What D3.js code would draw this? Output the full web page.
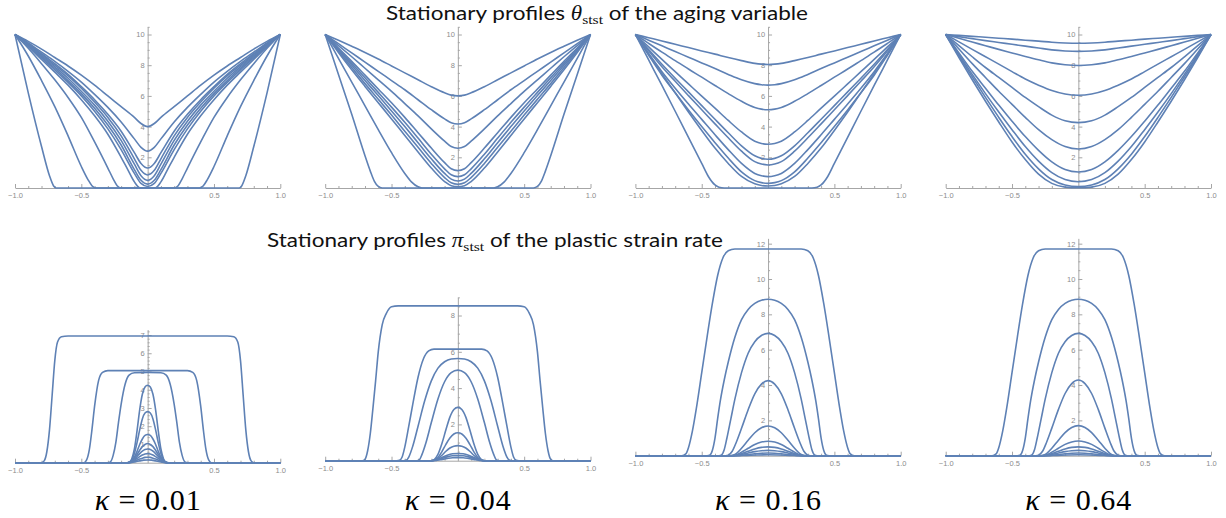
<!DOCTYPE html>
<html><head><meta charset="utf-8">
<script src="https://cdn.jsdelivr.net/npm/d3@7"></script>
<style>body{margin:0;background:#fff} svg{display:block}</style>
</head><body><svg id="c" width="1226" height="518"></svg>
<script>
// ---------------- data ----------------
const kappaLabels = ["0.01", "0.04", "0.16", "0.64"];
const xTicks = [-1, -0.5, 0.5, 1];
const thetaTicks = [2, 4, 6, 8, 10];
const piTicks = [[1, 2, 3, 4, 5, 6, 7], [2, 4, 6, 8], [2, 4, 6, 8, 10, 12], [2, 4, 6, 8, 10, 12]];
const thetaTop = 10.5;
const piTop = [7.3, 9.0, 12.3, 12.3];

// right halves [x, value]; profiles are symmetric in x
const thetaK001 = [
 [[0,4.0],[0.05,4.2],[0.1,4.6],[0.2,5.3],[0.3,6.0],[0.4,6.7],[0.5,7.35],[0.6,7.95],[0.7,8.5],[0.8,9.05],[0.9,9.55],[1,10]],
 [[0,2.4],[0.05,2.65],[0.1,3.2],[0.2,4.3],[0.3,5.25],[0.4,6.1],[0.5,6.9],[0.6,7.6],[0.7,8.25],[0.8,8.85],[0.9,9.45],[1,10]],
 [[0,1.3],[0.05,1.6],[0.1,2.3],[0.2,3.7],[0.3,4.8],[0.4,5.75],[0.5,6.6],[0.6,7.4],[0.7,8.1],[0.8,8.75],[0.9,9.4],[1,10]],
 [[0,0.85],[0.05,1.15],[0.1,1.9],[0.2,3.4],[0.3,4.6],[0.4,5.6],[0.5,6.5],[0.6,7.3],[0.7,8.0],[0.8,8.7],[0.9,9.35],[1,10]],
 [[0,0.5],[0.05,0.8],[0.1,1.55],[0.2,3.1],[0.3,4.35],[0.4,5.4],[0.5,6.3],[0.6,7.15],[0.7,7.9],[0.8,8.62],[0.9,9.3],[1,10]],
 [[0,0.25],[0.05,0.5],[0.1,1.2],[0.2,2.8],[0.3,4.1],[0.4,5.2],[0.5,6.15],[0.6,7.0],[0.7,7.8],[0.8,8.55],[0.9,9.27],[1,10]],
 [[0,0.1],[0.05,0.3],[0.1,0.95],[0.2,2.5],[0.3,3.85],[0.4,5.0],[0.5,6.0],[0.6,6.88],[0.7,7.7],[0.8,8.48],[0.9,9.25],[1,10]],
 [[0,0],[0.06,0.02],[0.1,0.4],[0.15,1.2],[0.2,2.0],[0.3,3.5],[0.4,4.7],[0.5,5.75],[0.6,6.7],[0.7,7.55],[0.8,8.38],[0.9,9.2],[1,10]],
 [[0,0],[0.2,0],[0.23,0.15],[0.26,0.6],[0.3,1.3],[0.4,3.0],[0.5,4.6],[0.6,5.9],[0.7,7.05],[0.8,8.1],[0.9,9.1],[1,10]],
 [[0,0],[0.39,0],[0.42,0.15],[0.45,0.55],[0.5,1.4],[0.6,3.4],[0.7,5.3],[0.8,7.0],[0.9,8.6],[1,10]],
 [[0,0],[0.69,0],[0.71,0.15],[0.74,0.8],[0.8,2.7],[0.9,6.2],[1,10]]
];
const thetaK004 = [
 [[0,6.0],[0.05,6.05],[0.1,6.2],[0.2,6.6],[0.3,7.05],[0.4,7.5],[0.5,7.95],[0.6,8.4],[0.7,8.83],[0.8,9.23],[0.9,9.62],[1,10]],
 [[0,4.17],[0.05,4.25],[0.1,4.5],[0.2,5.1],[0.3,5.75],[0.4,6.4],[0.5,7.0],[0.6,7.6],[0.7,8.2],[0.8,8.8],[0.9,9.4],[1,10]],
 [[0,2.59],[0.05,2.7],[0.1,3.05],[0.2,3.85],[0.3,4.7],[0.4,5.5],[0.5,6.3],[0.6,7.05],[0.7,7.8],[0.8,8.55],[0.9,9.28],[1,10]],
 [[0,1.13],[0.05,1.25],[0.1,1.65],[0.2,2.6],[0.3,3.6],[0.4,4.6],[0.5,5.55],[0.6,6.45],[0.7,7.35],[0.8,8.25],[0.9,9.12],[1,10]],
 [[0,0.74],[0.05,0.86],[0.1,1.25],[0.2,2.2],[0.3,3.25],[0.4,4.28],[0.5,5.27],[0.6,6.23],[0.7,7.18],[0.8,8.12],[0.9,9.06],[1,10]],
 [[0,0.46],[0.05,0.58],[0.1,0.95],[0.2,1.9],[0.3,2.95],[0.4,4.0],[0.5,5.02],[0.6,6.02],[0.7,7.0],[0.8,8.0],[0.9,9.0],[1,10]],
 [[0,0.24],[0.05,0.34],[0.1,0.68],[0.2,1.6],[0.3,2.65],[0.4,3.7],[0.5,4.75],[0.6,5.78],[0.7,6.8],[0.8,7.85],[0.9,8.92],[1,10]],
 [[0,0.09],[0.05,0.15],[0.1,0.42],[0.2,1.3],[0.3,2.35],[0.4,3.42],[0.5,4.5],[0.6,5.56],[0.7,6.62],[0.8,7.7],[0.9,8.83],[1,10]],
 [[0,0],[0.27,0],[0.3,0.08],[0.35,0.4],[0.4,0.95],[0.5,2.3],[0.6,3.8],[0.7,5.35],[0.8,6.9],[0.9,8.45],[1,10]],
 [[0,0],[0.57,0],[0.6,0.1],[0.63,0.45],[0.66,1.1],[0.7,2.1],[0.8,4.8],[0.9,7.4],[1,10]]
];
const thetaK016 = [
 [[0,8.05],[0.05,8.07],[0.1,8.12],[0.2,8.3],[0.3,8.5],[0.4,8.72],[0.5,8.93],[0.6,9.15],[0.7,9.36],[0.8,9.58],[0.9,9.79],[1,10]],
 [[0,6.7],[0.05,6.73],[0.1,6.8],[0.2,7.05],[0.3,7.4],[0.4,7.78],[0.5,8.15],[0.6,8.52],[0.7,8.89],[0.8,9.26],[0.9,9.63],[1,10]],
 [[0,5.1],[0.05,5.14],[0.1,5.25],[0.2,5.65],[0.3,6.15],[0.4,6.68],[0.5,7.22],[0.6,7.75],[0.7,8.3],[0.8,8.85],[0.9,9.42],[1,10]],
 [[0,2.85],[0.05,2.9],[0.1,3.05],[0.2,3.65],[0.3,4.4],[0.4,5.2],[0.5,5.98],[0.6,6.78],[0.7,7.58],[0.8,8.38],[0.9,9.19],[1,10]],
 [[0,1.87],[0.05,1.93],[0.1,2.1],[0.2,2.75],[0.3,3.6],[0.4,4.48],[0.5,5.37],[0.6,6.26],[0.7,7.15],[0.8,8.06],[0.9,9.02],[1,10]],
 [[0,1.5],[0.05,1.56],[0.1,1.72],[0.2,2.4],[0.3,3.27],[0.4,4.18],[0.5,5.1],[0.6,6.02],[0.7,6.95],[0.8,7.9],[0.9,8.93],[1,10]],
 [[0,0.74],[0.05,0.8],[0.1,0.95],[0.2,1.6],[0.3,2.5],[0.4,3.47],[0.5,4.47],[0.6,5.47],[0.7,6.5],[0.8,7.58],[0.9,8.76],[1,10]],
 [[0,0.3],[0.05,0.35],[0.1,0.48],[0.2,1.05],[0.3,1.95],[0.4,2.95],[0.5,4.0],[0.6,5.08],[0.7,6.2],[0.8,7.35],[0.9,8.65],[1,10]],
 [[0,0.13],[0.05,0.16],[0.1,0.27],[0.2,0.75],[0.3,1.6],[0.4,2.6],[0.5,3.75],[0.6,4.95],[0.7,6.2],[0.8,7.45],[0.9,8.72],[1,10]],
 [[0,0],[0.33,0],[0.37,0.05],[0.4,0.2],[0.45,0.75],[0.5,1.6],[0.6,3.3],[0.7,5.0],[0.8,6.68],[0.9,8.34],[1,10]]
];
const thetaK064 = [
 [[0,9.43],[0.1,9.45],[0.2,9.5],[0.3,9.57],[0.4,9.63],[0.5,9.7],[0.6,9.76],[0.7,9.82],[0.8,9.88],[0.9,9.94],[1,10]],
 [[0,8.9],[0.1,8.93],[0.2,9.0],[0.3,9.12],[0.4,9.24],[0.5,9.36],[0.6,9.48],[0.7,9.6],[0.8,9.73],[0.9,9.86],[1,10]],
 [[0,7.98],[0.1,8.03],[0.2,8.15],[0.3,8.35],[0.4,8.57],[0.5,8.8],[0.6,9.03],[0.7,9.27],[0.8,9.51],[0.9,9.75],[1,10]],
 [[0,6.04],[0.1,6.12],[0.2,6.35],[0.3,6.7],[0.4,7.1],[0.5,7.58],[0.6,8.07],[0.7,8.55],[0.8,9.03],[0.9,9.52],[1,10]],
 [[0,4.26],[0.1,4.38],[0.2,4.75],[0.3,5.3],[0.4,5.9],[0.5,6.55],[0.6,7.2],[0.7,7.85],[0.8,8.55],[0.9,9.27],[1,10]],
 [[0,2.54],[0.1,2.7],[0.2,3.15],[0.3,3.8],[0.4,4.6],[0.5,5.45],[0.6,6.3],[0.7,7.2],[0.8,8.1],[0.9,9.05],[1,10]],
 [[0,1.04],[0.1,1.2],[0.2,1.7],[0.3,2.45],[0.4,3.35],[0.5,4.35],[0.6,5.4],[0.7,6.5],[0.8,7.6],[0.9,8.8],[1,10]],
 [[0,0.41],[0.1,0.55],[0.2,1.0],[0.3,1.75],[0.4,2.7],[0.5,3.8],[0.6,4.95],[0.7,6.15],[0.8,7.4],[0.9,8.7],[1,10]],
 [[0,0.1],[0.1,0.2],[0.2,0.55],[0.3,1.25],[0.4,2.2],[0.5,3.35],[0.6,4.6],[0.7,5.9],[0.8,7.25],[0.9,8.6],[1,10]],
 [[0,0.02],[0.1,0.06],[0.2,0.3],[0.3,0.9],[0.4,1.85],[0.5,3.0],[0.6,4.3],[0.7,5.65],[0.8,7.05],[0.9,8.5],[1,10]]
];

const piK001 = [
 [[0,6.95],[0.6,6.95],[0.65,6.9],[0.68,6.6],[0.7,5.6],[0.72,3.7],[0.74,1.8],[0.76,0.6],[0.78,0.1],[0.8,0],[1,0]],
 [[0,5.05],[0.3,5.05],[0.34,4.95],[0.37,4.5],[0.4,3.1],[0.42,1.8],[0.44,0.7],[0.46,0.15],[0.48,0],[1,0]],
 [[0,4.95],[0.1,4.93],[0.14,4.8],[0.17,4.3],[0.2,3.2],[0.22,2.2],[0.24,1.1],[0.26,0.4],[0.28,0.05],[0.3,0],[1,0]],
 [[0,4.25],[0.02,4.15],[0.04,3.75],[0.06,2.9],[0.08,1.75],[0.1,0.75],[0.12,0.2],[0.14,0.02],[0.16,0],[1,0]],
 [[0,2.8],[0.02,2.72],[0.04,2.4],[0.06,1.8],[0.08,1.1],[0.1,0.5],[0.12,0.15],[0.15,0],[1,0]],
 [[0,1.55],[0.02,1.5],[0.04,1.3],[0.06,1.0],[0.08,0.62],[0.1,0.3],[0.12,0.1],[0.15,0],[1,0]],
 [[0,1.05],[0.02,1.0],[0.04,0.88],[0.06,0.68],[0.08,0.45],[0.1,0.24],[0.12,0.09],[0.15,0],[1,0]],
 [[0,0.75],[0.02,0.72],[0.04,0.63],[0.06,0.5],[0.08,0.34],[0.1,0.19],[0.12,0.07],[0.15,0],[1,0]],
 [[0,0.5],[0.02,0.48],[0.04,0.42],[0.06,0.33],[0.08,0.23],[0.1,0.13],[0.12,0.05],[0.15,0],[1,0]],
 [[0,0.3],[0.02,0.29],[0.04,0.25],[0.06,0.2],[0.08,0.14],[0.1,0.08],[0.12,0.03],[0.15,0],[1,0]],
 [[0,0.15],[0.03,0.14],[0.06,0.1],[0.09,0.06],[0.12,0.02],[0.15,0],[1,0]]
];
const piK004 = [
 [[0,8.53],[0.45,8.53],[0.5,8.48],[0.54,8.1],[0.57,7.5],[0.6,6.0],[0.62,4.4],[0.64,2.9],[0.66,1.5],[0.68,0.55],[0.7,0.08],[0.72,0],[1,0]],
 [[0,6.15],[0.18,6.15],[0.22,6.05],[0.26,5.6],[0.3,4.6],[0.34,3.1],[0.37,1.9],[0.4,0.75],[0.42,0.2],[0.44,0.02],[0.46,0],[1,0]],
 [[0,5.63],[0.05,5.6],[0.1,5.45],[0.15,5.1],[0.2,4.4],[0.25,3.3],[0.3,1.9],[0.34,0.8],[0.37,0.2],[0.39,0.02],[0.41,0],[1,0]],
 [[0,4.99],[0.05,4.85],[0.1,4.35],[0.15,3.4],[0.2,2.1],[0.24,1.0],[0.27,0.35],[0.29,0.05],[0.31,0],[1,0]],
 [[0,2.94],[0.03,2.82],[0.06,2.4],[0.09,1.7],[0.12,0.95],[0.15,0.35],[0.18,0.05],[0.2,0],[1,0]],
 [[0,1.54],[0.03,1.47],[0.06,1.25],[0.09,0.9],[0.12,0.5],[0.15,0.18],[0.18,0.03],[0.2,0],[1,0]],
 [[0,0.83],[0.03,0.8],[0.06,0.7],[0.09,0.52],[0.12,0.3],[0.15,0.12],[0.18,0.02],[0.2,0],[1,0]],
 [[0,0.4],[0.04,0.38],[0.08,0.3],[0.12,0.17],[0.16,0.06],[0.2,0],[1,0]],
 [[0,0.28],[0.04,0.27],[0.08,0.21],[0.12,0.12],[0.16,0.04],[0.2,0],[1,0]],
 [[0,0.17],[0.04,0.16],[0.08,0.12],[0.12,0.07],[0.16,0.02],[0.2,0],[1,0]]
];
const piK016 = [
 [[0,11.7],[0.25,11.7],[0.3,11.6],[0.34,11.2],[0.38,10.2],[0.42,8.6],[0.46,6.7],[0.5,4.7],[0.54,2.7],[0.57,1.4],[0.6,0.45],[0.62,0.1],[0.65,0],[1,0]],
 [[0,8.85],[0.05,8.8],[0.1,8.62],[0.15,8.28],[0.2,7.7],[0.25,6.7],[0.3,5.3],[0.33,4.3],[0.36,3.1],[0.38,2.1],[0.4,1.0],[0.42,0.3],[0.44,0.03],[0.46,0],[1,0]],
 [[0,6.92],[0.05,6.8],[0.1,6.45],[0.15,5.8],[0.2,4.7],[0.25,3.2],[0.28,2.1],[0.31,1.0],[0.33,0.35],[0.35,0.05],[0.37,0],[1,0]],
 [[0,4.25],[0.05,4.05],[0.1,3.5],[0.15,2.6],[0.2,1.55],[0.24,0.75],[0.27,0.25],[0.3,0.03],[0.32,0],[1,0]],
 [[0,1.68],[0.05,1.58],[0.1,1.3],[0.15,0.87],[0.2,0.42],[0.24,0.12],[0.27,0.02],[0.29,0],[1,0]],
 [[0,0.82],[0.05,0.77],[0.1,0.63],[0.15,0.42],[0.2,0.2],[0.24,0.05],[0.27,0],[1,0]],
 [[0,0.5],[0.05,0.47],[0.1,0.38],[0.15,0.25],[0.2,0.12],[0.24,0.03],[0.27,0],[1,0]],
 [[0,0.3],[0.05,0.28],[0.1,0.23],[0.15,0.15],[0.2,0.07],[0.24,0.02],[0.27,0],[1,0]],
 [[0,0.15],[0.05,0.14],[0.1,0.11],[0.15,0.07],[0.2,0.03],[0.25,0],[1,0]],
 [[0,0.05],[0.08,0.04],[0.16,0.02],[0.24,0],[1,0]]
];
const piK064 = [
 [[0,11.7],[0.25,11.7],[0.3,11.6],[0.34,11.2],[0.38,10.2],[0.42,8.6],[0.46,6.7],[0.5,4.7],[0.54,2.7],[0.57,1.4],[0.6,0.45],[0.62,0.1],[0.65,0],[1,0]],
 [[0,8.85],[0.05,8.8],[0.1,8.62],[0.15,8.28],[0.2,7.7],[0.25,6.7],[0.3,5.3],[0.33,4.3],[0.36,3.1],[0.38,2.1],[0.4,1.0],[0.42,0.3],[0.44,0.03],[0.46,0],[1,0]],
 [[0,6.92],[0.05,6.8],[0.1,6.45],[0.15,5.8],[0.2,4.7],[0.25,3.2],[0.28,2.1],[0.31,1.0],[0.33,0.35],[0.35,0.05],[0.37,0],[1,0]],
 [[0,4.28],[0.05,4.08],[0.1,3.52],[0.15,2.62],[0.2,1.56],[0.24,0.75],[0.27,0.25],[0.3,0.03],[0.32,0],[1,0]],
 [[0,1.7],[0.05,1.6],[0.1,1.31],[0.15,0.88],[0.2,0.42],[0.24,0.12],[0.27,0.02],[0.29,0],[1,0]],
 [[0,0.83],[0.05,0.78],[0.1,0.64],[0.15,0.42],[0.2,0.2],[0.24,0.05],[0.27,0],[1,0]],
 [[0,0.5],[0.05,0.47],[0.1,0.38],[0.15,0.25],[0.2,0.12],[0.24,0.03],[0.27,0],[1,0]],
 [[0,0.3],[0.05,0.28],[0.1,0.23],[0.15,0.15],[0.2,0.07],[0.24,0.02],[0.27,0],[1,0]],
 [[0,0.15],[0.05,0.14],[0.1,0.11],[0.15,0.07],[0.2,0.03],[0.25,0],[1,0]],
 [[0,0.05],[0.08,0.04],[0.16,0.02],[0.24,0],[1,0]]
];
const thetaSets = [thetaK001, thetaK004, thetaK016, thetaK064];
const piSets = [piK001, piK004, piK016, piK064];

// ---------------- layout ----------------
const svg = d3.select("#c");
const lineColor = "#5e81b5";
const axisColor = "#a6a6a6";
const labelColor = "#8c8c8c";
const colLeft = [15, 325.2, 635.4, 945.7];
const panelW = 265.3;
const topBase = 188, topUnit = 15.35;
const botBase = [462.7, 460.7, 455.7, 455.7];
const botUnit = [18.24, 18.15, 17.67, 17.67];

function mirror(c) {
  const left = c.filter(p => p[0] > 0).map(p => [-p[0], p[1]]).reverse();
  return left.concat(c);
}

function drawPanel(left, base, unit, top, majors, minorStep, curves) {
  const x = d3.scaleLinear().domain([-1, 1]).range([left, left + panelW]);
  const y = d3.scaleLinear().domain([0, top]).range([base, base - top * unit]);
  const g = svg.append("g");
  const x0 = x(0);
  const xMinor = d3.range(-10, 11).map(i => i / 10).filter(v => Math.abs(v) > 1e-9 && !xTicks.includes(v));
  g.append("g").attr("transform", `translate(0,${base})`)
    .call(d3.axisBottom(x).tickValues(xMinor).tickSize(-2).tickSizeOuter(0).tickFormat(""))
    .call(a => a.select(".domain").remove())
    .call(a => a.selectAll("line").attr("stroke", axisColor));
  const yMinor = d3.range(1, Math.floor(top / minorStep + 1e-9) + 1).map(i => +(i * minorStep).toFixed(3))
    .filter(v => !majors.includes(v));
  g.append("g").attr("transform", `translate(${x0},0)`)
    .call(d3.axisLeft(y).tickValues(yMinor).tickSize(-2).tickSizeOuter(0).tickFormat(""))
    .call(a => a.select(".domain").remove())
    .call(a => a.selectAll("line").attr("stroke", axisColor));
  g.append("g").attr("transform", `translate(0,${base})`)
    .call(d3.axisBottom(x).tickValues(xTicks).tickSize(-4).tickSizeOuter(0).tickPadding(5).tickFormat(d3.format(".1f")))
    .call(a => a.select(".domain").attr("stroke", axisColor))
    .call(a => a.selectAll("line").attr("stroke", axisColor))
    .call(a => a.selectAll("text").attr("fill", labelColor).style("font", "7.5px 'Liberation Sans', Arial, sans-serif"));
  g.append("g").attr("transform", `translate(${x0},0)`)
    .call(d3.axisLeft(y).tickValues(majors).tickSize(-4).tickSizeOuter(0).tickPadding(3).tickFormat(d3.format("d")))
    .call(a => a.select(".domain").attr("stroke", axisColor))
    .call(a => a.selectAll("line").attr("stroke", axisColor))
    .call(a => a.selectAll("text").attr("fill", labelColor).style("font", "7.5px 'Liberation Sans', Arial, sans-serif"));
  const line = d3.line().x(d => x(d[0])).y(d => y(d[1])).curve(d3.curveMonotoneX);
  g.append("g").selectAll("path").data(curves).join("path")
    .attr("d", c => line(mirror(c)))
    .attr("fill", "none").attr("stroke", lineColor).attr("stroke-width", 1.6)
    .attr("stroke-linejoin", "round");
  return x0;
}

const centers = [];
for (let i = 0; i < 4; i++) {
  centers.push(drawPanel(colLeft[i], topBase, topUnit, thetaTop, thetaTicks, 0.5, thetaSets[i]));
  drawPanel(colLeft[i], botBase[i], botUnit[i], piTop[i], piTicks[i], i === 0 ? 0.2 : 0.5, piSets[i]);
}

// titles
const titleFont = "'Lato', 'Noto Sans', sans-serif";
function title(x, y, len, sym, rest) {
  const t = svg.append("text").attr("x", x).attr("y", y).attr("font-family", titleFont)
    .attr("font-size", 19.5).attr("fill", "#111")
    .attr("textLength", len).attr("lengthAdjust", "spacingAndGlyphs");
  t.append("tspan").text("Stationary profiles ");
  t.append("tspan").attr("font-family", "'Liberation Serif', serif").attr("font-style", "italic").attr("font-size", 20).text(sym);
  t.append("tspan").attr("font-family", "'Liberation Serif', serif").attr("font-size", 13.5).attr("dy", 3.5).text("stst");
  t.append("tspan").attr("dy", -3.5).text(rest);
}
title(386, 20, 422, "θ", " of the aging variable");
title(267, 247, 456, "π", " of the plastic strain rate");

// kappa labels
kappaLabels.forEach((k, i) => {
  const t = svg.append("text").attr("x", centers[i]).attr("y", 510).attr("text-anchor", "middle")
    .attr("font-family", "'Liberation Serif', 'DejaVu Serif', serif").attr("font-size", 30).attr("fill", "#000")
    .attr("textLength", 106).attr("lengthAdjust", "spacing");
  t.append("tspan").attr("font-style", "italic").text("κ");
  t.append("tspan").text(" = " + k);
});
</script></body></html>
